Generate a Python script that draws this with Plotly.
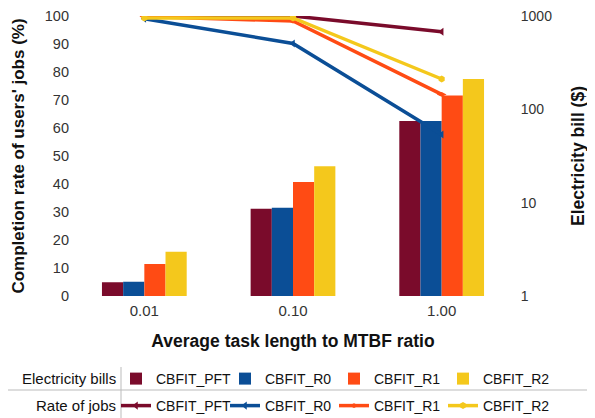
import plotly.graph_objects as go

categories = ["0.01", "0.10", "1.00"]
series_names = ["CBFIT_PFT", "CBFIT_R0", "CBFIT_R1", "CBFIT_R2"]
colors = ["#7A0B2B", "#0B4E96", "#FF4B14", "#F4C81C"]

# Electricity bill ($), log scale (right axis)
bill_pft = [1.40, 8.6, 75]
bill_r0 = [1.42, 8.8, 75]
bill_r1 = [2.2, 16.6, 141]
bill_r2 = [2.98, 24.5, 212]

# Completion rate of users' jobs (%) (left axis)
rate_pft = [100, 100, 94.4]
rate_r0 = [99, 90.2, 57.7]
rate_r1 = [99.8, 98.2, 72]
rate_r2 = [99.3, 99.3, 77.5]

row_labels = ["Electricity bills", "Rate of jobs"]

bills = [bill_pft, bill_r0, bill_r1, bill_r2]
rates = [rate_pft, rate_r0, rate_r1, rate_r2]
symbols = ["triangle-left", "triangle-left", "diamond-wide", "hexagon"]

FONT = "Liberation Sans, Arial, sans-serif"

fig = go.Figure()
for name, vals, c in zip(series_names, bills, colors):
    fig.add_trace(go.Bar(x=categories, y=vals, name=name, marker=dict(color=c, line=dict(width=0)),
                         yaxis="y", legend="legend"))
for name, vals, c, s in zip(series_names, rates, colors, symbols):
    fig.add_trace(go.Scatter(x=categories, y=vals, name=name, mode="lines+markers",
                             line=dict(color=c, width=3.5), marker=dict(color=c, size=7, symbol=s),
                             yaxis="y2", legend="legend2"))

# page body has an 8px default margin: figure is drawn offset by OFF
OFF = 8
W, H = 595 - OFF, 418 - OFF
L = 70 - OFF
T = 16 - OFF
R = W - (516 - OFF)
B = H - (296 - OFF)
ph = H - T - B
pw = W - L - R

def px(xs):  # screen x -> paper
    return (xs - OFF - L) / pw

def py(ys):  # screen y -> paper
    return (H - B - (ys - OFF)) / ph

def cx(xs):
    return (xs - OFF) / W

def cy(ys):
    return 1 - (ys - OFF) / H

fig.update_layout(
    width=W, height=H,
    margin=dict(l=L, r=R, t=T, b=B),
    plot_bgcolor="white", paper_bgcolor="white",
    font=dict(family=FONT, size=14, color="#222"),
    barmode="group", bargap=0.43, bargroupgap=0,
    xaxis=dict(type="category", showgrid=False, showline=False, automargin=False,
               ticks="outside", ticklen=1, tickcolor="rgba(0,0,0,0)",
               tickfont=dict(size=15, color="#333"),
               title=dict(text="<b>Average task length to MTBF ratio</b>", font=dict(size=17.5, color="#111"), standoff=16)),
    yaxis=dict(type="log", side="right", range=[0, 3], showgrid=False, zeroline=False, showline=False,
               automargin=False, ticklabeloverflow="allow",
               tickvals=[1, 10, 100, 1000], ticktext=["1", "10", "100", "1000"],
               ticks="outside", ticklen=1, tickcolor="rgba(0,0,0,0)",
               tickfont=dict(size=14, color="#333"),
               title=dict(text="<b>Electricity bill ($)</b>", font=dict(size=17.5, color="#111"), standoff=20)),
    yaxis2=dict(overlaying="y", side="left", range=[0, 100], showgrid=False, zeroline=False, showline=False,
                automargin=False, ticklabeloverflow="allow",
                ticks="", tickvals=list(range(0, 101, 10)), tickfont=dict(size=14.5, color="#333"),
                title=dict(text="<b>Completion rate of users' jobs (%)</b>", font=dict(size=17, color="#111"), standoff=15)),
    legend=dict(orientation="h", xref="container", yref="container",
                x=cx(116), xanchor="left", y=cy(379), yanchor="middle",
                font=dict(size=14, color="#111"), itemwidth=30, entrywidth=64,
                bgcolor="rgba(0,0,0,0)"),
    legend2=dict(orientation="h", xref="container", yref="container",
                 x=cx(116), xanchor="left", y=cy(406), yanchor="middle",
                 font=dict(size=14, color="#111"), itemwidth=30, entrywidth=64,
                 bgcolor="rgba(0,0,0,0)"),
    showlegend=True,
)

for lbl, yy in zip(row_labels, [378, 405]):
    fig.add_annotation(text=lbl, xref="paper", yref="paper", x=px(118), y=py(yy),
                       xanchor="right", yanchor="middle", showarrow=False,
                       font=dict(size=15, color="#111"))

fig.add_shape(type="line", xref="paper", yref="paper", x0=px(0), x1=px(595), y0=py(390), y1=py(390),
              line=dict(color="#bbb", width=1))
fig.add_shape(type="line", xref="paper", yref="paper", x0=px(121), x1=px(121), y0=py(367), y1=py(418),
              line=dict(color="#bbb", width=1))

fig.write_html("out.html")
